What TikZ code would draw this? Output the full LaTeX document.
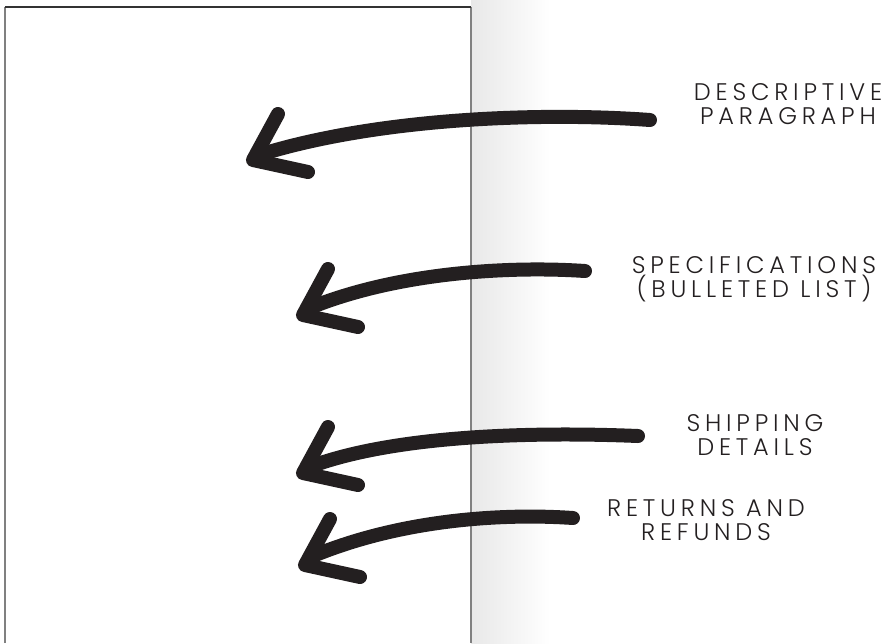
\documentclass[tikz,border=0pt]{standalone}
\usepackage{fontspec}
\newfontfamily\notefont{Poppins Light}[LetterSpace=20]
\usetikzlibrary{positioning}
\definecolor{ink}{HTML}{231F20}

\begin{document}
\begin{tikzpicture}[x=1pt,y=-1pt,
  note/.style={font=\notefont\fontsize{24}{24.5}\selectfont,text=ink,align=center,inner sep=0pt},
  stroke/.style={ink,line width=14pt,line cap=round,line join=round},
  tiphead/.pic={\draw[stroke] (25,-46) -- (0,0) -- (55,12);}
]
  \useasboundingbox (0,0) rectangle (888,643);

  % page and its shadow
  \shade[left color=black!9,right color=white,shading angle=90] (471,0) rectangle (550,643);
  \draw[black!50,line width=1.2pt] (5,643) -- (5,7) (471,7) -- (471,643);
  \draw[black!80,line width=1.2pt] (5,7) -- (471,7);

  % labels
  \node[note] (desc) at (788,104) {DESCRIPTIVE\\PARAGRAPH};
  \node[note] (specs) at (754,279) {SPECIFICATIONS\\(BULLETED LIST)};
  \node[note] (ship) at (755,435) {SHIPPING\\DETAILS};
  \node[note] (returns) at (706,520) {RETURNS AND\\REFUNDS};

  % arrow ends
  \coordinate (desc-tail) at (650,120);
  \coordinate (desc-tip) at (253,160);
  \coordinate (specs-tail) at (585,271);
  \coordinate (specs-tip) at (303,315);
  \coordinate (ship-tail) at (638,436);
  \coordinate (ship-tip) at (303,473);
  \coordinate (returns-tail) at (573,518);
  \coordinate (returns-tip) at (305,565);

  % hand drawn arrows
  \draw[stroke] (desc-tail) .. controls (540,112) and (380,118) .. ([shift={(9,-6)}]desc-tip);
  \pic at (desc-tip) {tiphead};
  \draw[stroke] (specs-tail) .. controls (510,266) and (400,272) .. ([shift={(9,-8)}]specs-tip);
  \pic at (specs-tip) {tiphead};
  \draw[stroke] (ship-tail) .. controls (540,432) and (400,434) .. ([shift={(9,-7)}]ship-tip);
  \pic at (ship-tip) {tiphead};
  \draw[stroke] (returns-tail) .. controls (500,513) and (400,520) .. ([shift={(8,-9)}]returns-tip);
  \pic at (returns-tip) {tiphead};
\end{tikzpicture}
\end{document}
